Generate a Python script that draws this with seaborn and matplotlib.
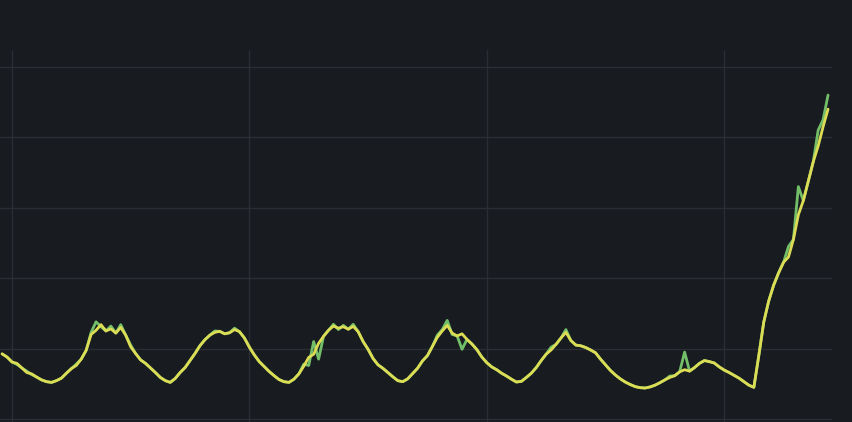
import numpy as np
import pandas as pd
import seaborn as sns
import matplotlib.pyplot as plt

# half-hourly readings, starting one hour before the first grid line
yellow = [
    18.5, 17.6, 16.2, 15.8, 14.5, 13.2, 12.8, 11.9, 11.1, 10.6,
    10.4, 10.9, 11.6, 13.0, 14.3, 15.2, 17.0, 19.5, 24.0, 25.2,
    26.8, 25.0, 25.6, 24.4, 26.0, 23.8, 20.5, 18.6, 16.8, 15.8,
    14.5, 13.2, 11.8, 10.9, 10.4, 11.5, 13.2, 14.6, 16.6, 18.6,
    20.8, 22.5, 23.8, 24.6, 24.9, 24.2, 24.5, 25.4, 24.8, 23.0,
    20.4, 18.2, 16.3, 14.9, 13.5, 12.3, 11.2, 10.6, 10.4, 11.3,
    12.8, 15.0, 17.5, 18.4, 21.5, 23.5, 25.2, 26.4, 25.8, 26.2,
    25.5, 26.3, 24.8, 22.0, 19.8, 17.2, 15.4, 14.4, 13.2, 12.0,
    10.9, 10.6, 11.4, 12.9, 14.4, 16.5, 18.0, 20.6, 23.2, 25.0,
    26.6, 24.4, 23.6, 24.2, 22.6, 21.3, 19.7, 17.6, 16.0, 14.8,
    14.0, 13.0, 12.2, 11.3, 10.5, 10.7, 11.8, 13.0, 14.6, 16.6,
    18.4, 19.6, 21.2, 23.0, 24.6, 22.3, 21.0, 20.8, 20.3, 19.6,
    18.8, 17.0, 15.4, 13.8, 12.5, 11.4, 10.5, 9.8, 9.2, 8.9,
    8.8, 9.1, 9.6, 10.3, 11.1, 11.8, 12.3, 13.4, 14.0, 13.6,
    14.6, 15.8, 16.6, 16.3, 15.9, 14.8, 13.9, 13.2, 12.4, 11.6,
    10.6, 9.6, 9.0, 18.0, 27.5, 33.5, 38.0, 41.5, 44.5, 46.0,
    51.0, 58.0, 62.0, 67.5, 73.0, 77.5, 83.0, 88.0,
]
green = [
    18.5, 17.6, 16.2, 15.5, 14.5, 13.6, 12.6, 11.9, 11.1, 10.6,
    10.4, 10.9, 11.6, 13.0, 14.3, 15.6, 17.0, 19.5, 24.6, 27.6,
    26.2, 25.0, 26.4, 24.4, 26.8, 23.8, 21.0, 18.6, 16.8, 15.8,
    14.5, 13.2, 11.8, 10.9, 10.4, 11.5, 13.2, 14.6, 16.6, 18.6,
    20.8, 22.5, 23.8, 25.0, 24.9, 24.2, 24.5, 25.8, 24.8, 23.0,
    20.4, 18.2, 16.3, 14.9, 13.5, 12.3, 11.2, 10.6, 10.4, 11.3,
    12.8, 15.6, 15.2, 22.0, 17.0, 23.5, 25.2, 26.9, 25.4, 26.6,
    25.5, 26.9, 24.8, 22.0, 19.8, 17.2, 15.4, 14.4, 13.2, 12.0,
    10.9, 10.6, 11.4, 12.9, 14.4, 16.5, 18.0, 20.6, 23.8, 25.4,
    28.0, 24.0, 23.6, 19.8, 22.6, 21.3, 19.7, 17.6, 16.0, 14.8,
    14.0, 13.0, 12.2, 11.3, 10.5, 10.7, 11.8, 13.0, 14.6, 16.6,
    18.4, 20.4, 21.2, 23.0, 25.4, 22.3, 21.0, 20.8, 20.3, 19.6,
    18.8, 17.0, 15.4, 13.8, 12.5, 11.4, 10.5, 9.8, 9.2, 8.9,
    8.8, 9.1, 9.6, 10.3, 11.1, 12.2, 12.3, 13.4, 19.0, 13.6,
    14.6, 15.8, 16.6, 16.3, 15.9, 14.8, 13.9, 13.2, 12.4, 11.6,
    10.6, 9.6, 9.0, 18.0, 27.5, 33.5, 38.0, 41.5, 44.5, 49.0,
    51.0, 66.0, 62.0, 67.5, 73.0, 82.0, 85.0, 92.0,
]
hours = np.arange(len(yellow)) * 0.5 - 1
x_ticks = [0, 24, 48, 72]
y_ticks = [0, 20, 40, 60, 80, 100]

df = pd.DataFrame({
    "hour": np.concatenate([hours, hours]),
    "value": green + yellow,
    "series": ["green"] * len(green) + ["yellow"] * len(yellow),
})

bg = "#181b1f"
sns.set_style("dark")
fig = plt.figure(figsize=(8.53, 4.22), dpi=100, facecolor=bg)
ax = fig.add_axes([0, 0, 832 / 853, 372 / 422])
ax.set_facecolor(bg)

sns.lineplot(data=df, x="hour", y="value", hue="series",
             palette={"green": "#73bf69", "yellow": "#dcdc55"},
             linewidth=2.0, legend=False, ax=ax)

ax.set_xlim(-1.21, 82.9)
ax.set_ylim(-0.85, 104.8)
ax.set_xticks(x_ticks)
ax.set_yticks(y_ticks)
ax.grid(True, color="#2a2e34", linewidth=1)
ax.tick_params(length=0, labelbottom=False, labelleft=False)
ax.set_xlabel("")
ax.set_ylabel("")
for s in ax.spines.values():
    s.set_visible(False)

fig.savefig("out.png", dpi=100, facecolor=bg)
